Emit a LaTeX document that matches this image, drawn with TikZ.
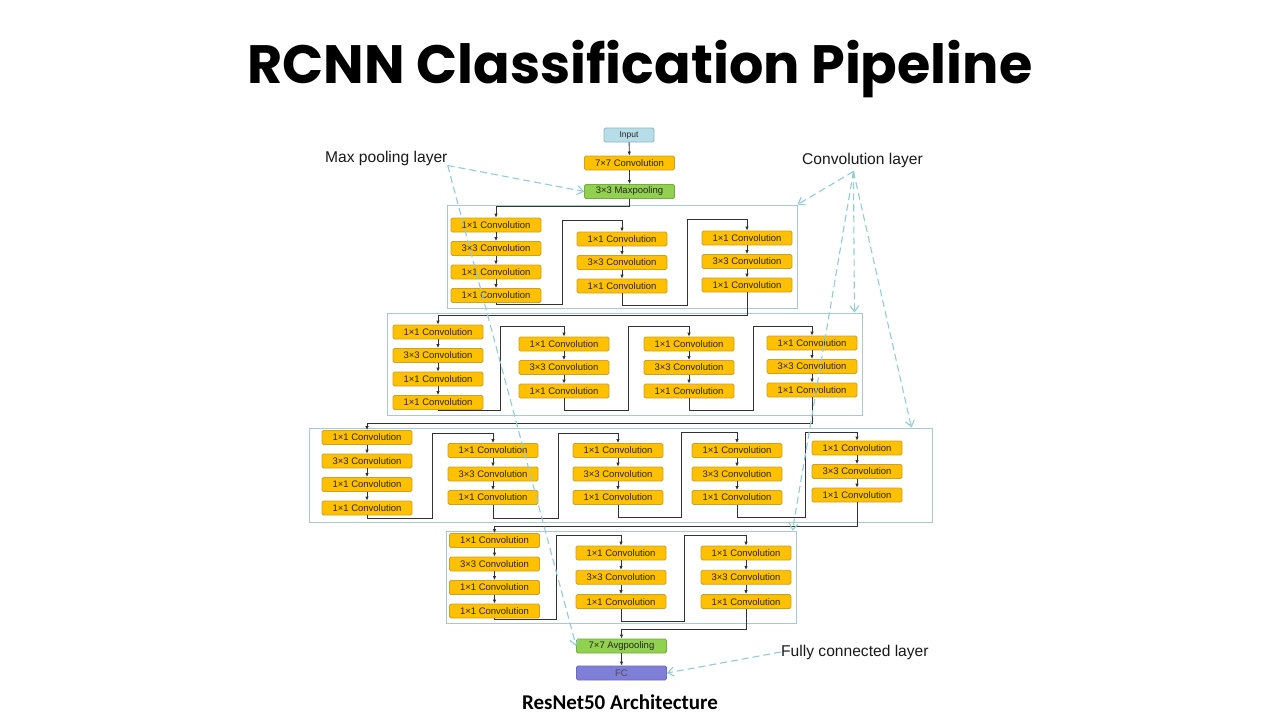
\documentclass[tikz,border=0pt]{standalone}
\usepackage{fontspec}
\setmainfont{Liberation Sans}
\newfontfamily\titlefont{Poppins}
\newfontfamily\capfont{Carlito}
\usepackage{tikz}
\usetikzlibrary{positioning,arrows.meta}
\definecolor{convfill}{HTML}{FFC000}
\definecolor{convline}{HTML}{C9A227}
\definecolor{poolfill}{HTML}{92D050}
\definecolor{poolline}{HTML}{74AD3C}
\definecolor{inputfill}{HTML}{B7DEE8}
\definecolor{inputline}{HTML}{8FB4BE}
\definecolor{fcfill}{HTML}{7F7FD8}
\definecolor{fcline}{HTML}{6A6AC0}
\definecolor{frameline}{HTML}{A9C9CC}
\definecolor{noteline}{HTML}{93CDD4}
\definecolor{wireline}{HTML}{333333}

\begin{document}
\begin{tikzpicture}[
      x=1pt, y=-1pt,
      node distance=8.7pt,
      layer/.style={rounded corners=1.5pt,line width=0.8pt,minimum width=90pt,minimum height=14pt,inner sep=0pt,font=\fontsize{9.5}{9.5}\selectfont,text=black!85},
      conv/.style={layer,draw=convline,fill=convfill},
      pool/.style={layer,draw=poolline,fill=poolfill},
      inbox/.style={layer,draw=inputline,fill=inputfill,minimum width=50pt,font=\fontsize{8.5}{8.5}\selectfont},
      fcbox/.style={layer,draw=fcline,fill=fcfill,text=black!70},
      frame/.style={draw=frameline,line width=0.9pt,inner sep=0pt},
      notelabel/.style={anchor=west,inner sep=0pt,font=\fontsize{15.6}{15.6}\selectfont,text=black!90},
      arr/.style={-{Latex[length=4pt,width=3.5pt]},line width=0.9pt,draw=wireline},
      note/.style={-{Straight Barb[length=6pt,width=9pt]},line width=1.1pt,draw=noteline,dash pattern=on 7pt off 4pt}
    ]
    \fill[white] (0,0) rectangle (1280,720);
    \useasboundingbox (0,0) rectangle (1280,720);

    \node (title) at (640,69) {\titlefont\bfseries\fontsize{54}{54}\selectfont RCNN Classification Pipeline};
    \node (caption) at (620,702) {\capfont\bfseries\fontsize{21}{21}\selectfont ResNet50 Architecture};

    % stage frames
    \node[frame,minimum width=350pt,minimum height=103pt] (stage1) at (622,256.5) {};
    \node[frame,minimum width=475pt,minimum height=102pt] (stage2) at (624.5,364) {};
    \node[frame,minimum width=623pt,minimum height=94pt] (stage3) at (620.5,475) {};
    \node[frame,minimum width=350pt,minimum height=92pt] (stage4) at (621,577) {};

    % stem
    \node[inbox] (input) at (629,135) {Input};
    \node[conv] (conv7) at (629.5,163) {7×7 Convolution};
    \node[pool] (maxpool) at (629.5,191.5) {3×3 Maxpooling};

    % stage 1
    \node[conv] (s1c1r1) at (496,225) {1×1 Convolution};
    \node[conv, below=of s1c1r1] (s1c1r2) {3×3 Convolution};
    \node[conv, below=of s1c1r2] (s1c1r3) {1×1 Convolution};
    \node[conv, below=of s1c1r3] (s1c1r4) {1×1 Convolution};
    \node[conv] (s1c2r1) at (622,239) {1×1 Convolution};
    \node[conv, below=of s1c2r1] (s1c2r2) {3×3 Convolution};
    \node[conv, below=of s1c2r2] (s1c2r3) {1×1 Convolution};
    \node[conv] (s1c3r1) at (747,238) {1×1 Convolution};
    \node[conv, below=of s1c3r1] (s1c3r2) {3×3 Convolution};
    \node[conv, below=of s1c3r2] (s1c3r3) {1×1 Convolution};

    % stage 2
    \node[conv] (s2c1r1) at (438,332) {1×1 Convolution};
    \node[conv, below=of s2c1r1] (s2c1r2) {3×3 Convolution};
    \node[conv, below=of s2c1r2] (s2c1r3) {1×1 Convolution};
    \node[conv, below=of s2c1r3] (s2c1r4) {1×1 Convolution};
    \node[conv] (s2c2r1) at (564,344) {1×1 Convolution};
    \node[conv, below=of s2c2r1] (s2c2r2) {3×3 Convolution};
    \node[conv, below=of s2c2r2] (s2c2r3) {1×1 Convolution};
    \node[conv] (s2c3r1) at (689,344) {1×1 Convolution};
    \node[conv, below=of s2c3r1] (s2c3r2) {3×3 Convolution};
    \node[conv, below=of s2c3r2] (s2c3r3) {1×1 Convolution};
    \node[conv] (s2c4r1) at (812,343) {1×1 Convolution};
    \node[conv, below=of s2c4r1] (s2c4r2) {3×3 Convolution};
    \node[conv, below=of s2c4r2] (s2c4r3) {1×1 Convolution};

    % stage 3
    \node[conv] (s3c1r1) at (367,437.5) {1×1 Convolution};
    \node[conv, below=of s3c1r1] (s3c1r2) {3×3 Convolution};
    \node[conv, below=of s3c1r2] (s3c1r3) {1×1 Convolution};
    \node[conv, below=of s3c1r3] (s3c1r4) {1×1 Convolution};
    \node[conv] (s3c2r1) at (493,450.5) {1×1 Convolution};
    \node[conv, below=of s3c2r1] (s3c2r2) {3×3 Convolution};
    \node[conv, below=of s3c2r2] (s3c2r3) {1×1 Convolution};
    \node[conv] (s3c3r1) at (618,450.5) {1×1 Convolution};
    \node[conv, below=of s3c3r1] (s3c3r2) {3×3 Convolution};
    \node[conv, below=of s3c3r2] (s3c3r3) {1×1 Convolution};
    \node[conv] (s3c4r1) at (737,450.5) {1×1 Convolution};
    \node[conv, below=of s3c4r1] (s3c4r2) {3×3 Convolution};
    \node[conv, below=of s3c4r2] (s3c4r3) {1×1 Convolution};
    \node[conv] (s3c5r1) at (857,448) {1×1 Convolution};
    \node[conv, below=of s3c5r1] (s3c5r2) {3×3 Convolution};
    \node[conv, below=of s3c5r2] (s3c5r3) {1×1 Convolution};

    % stage 4
    \node[conv] (s4c1r1) at (494.5,540.5) {1×1 Convolution};
    \node[conv, below=of s4c1r1] (s4c1r2) {3×3 Convolution};
    \node[conv, below=of s4c1r2] (s4c1r3) {1×1 Convolution};
    \node[conv, below=of s4c1r3] (s4c1r4) {1×1 Convolution};
    \node[conv] (s4c2r1) at (621,553) {1×1 Convolution};
    \node[conv, below=9.5pt of s4c2r1] (s4c2r2) {3×3 Convolution};
    \node[conv, below=9.5pt of s4c2r2] (s4c2r3) {1×1 Convolution};
    \node[conv] (s4c3r1) at (746,553) {1×1 Convolution};
    \node[conv, below=9.5pt of s4c3r1] (s4c3r2) {3×3 Convolution};
    \node[conv, below=9.5pt of s4c3r2] (s4c3r3) {1×1 Convolution};

    % head
    \node[pool] (avgpool) at (621.5,646) {7×7 Avgpooling};
    \node[fcbox] (fc) at (621.5,673) {FC};

    % labels
    \node[notelabel] (mplabel) at (325,158) {Max pooling layer};
    \node[notelabel] (cvlabel) at (802,160) {Convolution layer};
    \node[notelabel] (fclabel) at (781,652) {Fully connected layer};

    % main flow
    \draw[arr] (input) -- (conv7);
    \draw[arr] (conv7) -- (maxpool);
    \draw[arr] (maxpool.south) -- ++(0,8) -| (s1c1r1.north);
    \draw[arr] (s1c1r1) -- (s1c1r2);
    \draw[arr] (s1c1r2) -- (s1c1r3);
    \draw[arr] (s1c1r3) -- (s1c1r4);
    \draw[arr] (s1c1r4.south) |- (562,304) -- (562,220) -| (s1c2r1.north);
    \draw[arr] (s1c2r1) -- (s1c2r2);
    \draw[arr] (s1c2r2) -- (s1c2r3);
    \draw[arr] (s1c2r3.south) |- (687,305) -- (687,219) -| (s1c3r1.north);
    \draw[arr] (s1c3r1) -- (s1c3r2);
    \draw[arr] (s1c3r2) -- (s1c3r3);
    \draw[arr] (s1c3r3.south) -- ++(0,23) -| (s2c1r1.north);

    \draw[arr] (s2c1r1) -- (s2c1r2);
    \draw[arr] (s2c1r2) -- (s2c1r3);
    \draw[arr] (s2c1r3) -- (s2c1r4);
    \draw[arr] (s2c1r4.south) |- (500,410) -- (500,326) -| (s2c2r1.north);
    \draw[arr] (s2c2r1) -- (s2c2r2);
    \draw[arr] (s2c2r2) -- (s2c2r3);
    \draw[arr] (s2c2r3.south) |- (628,410) -- (628,326) -| (s2c3r1.north);
    \draw[arr] (s2c3r1) -- (s2c3r2);
    \draw[arr] (s2c3r2) -- (s2c3r3);
    \draw[arr] (s2c3r3.south) |- (753,410) -- (753,326) -| (s2c4r1.north);
    \draw[arr] (s2c4r1) -- (s2c4r2);
    \draw[arr] (s2c4r2) -- (s2c4r3);
    \draw[arr] (s2c4r3.south) -- ++(0,26) -| (s3c1r1.north);

    \draw[arr] (s3c1r1) -- (s3c1r2);
    \draw[arr] (s3c1r2) -- (s3c1r3);
    \draw[arr] (s3c1r3) -- (s3c1r4);
    \draw[arr] (s3c1r4.south) |- (432,518) -- (432,433) -| (s3c2r1.north);
    \draw[arr] (s3c2r1) -- (s3c2r2);
    \draw[arr] (s3c2r2) -- (s3c2r3);
    \draw[arr] (s3c2r3.south) |- (558,518) -- (558,433) -| (s3c3r1.north);
    \draw[arr] (s3c3r1) -- (s3c3r2);
    \draw[arr] (s3c3r2) -- (s3c3r3);
    \draw[arr] (s3c3r3.south) |- (681,517) -- (681,432) -| (s3c4r1.north);
    \draw[arr] (s3c4r1) -- (s3c4r2);
    \draw[arr] (s3c4r2) -- (s3c4r3);
    \draw[arr] (s3c4r3.south) |- (805,517) -- (805,432) -| (s3c5r1.north);
    \draw[arr] (s3c5r1) -- (s3c5r2);
    \draw[arr] (s3c5r2) -- (s3c5r3);
    \draw[arr] (s3c5r3.south) -- ++(0,24) -| (s4c1r1.north);

    \draw[arr] (s4c1r1) -- (s4c1r2);
    \draw[arr] (s4c1r2) -- (s4c1r3);
    \draw[arr] (s4c1r3) -- (s4c1r4);
    \draw[arr] (s4c1r4.south) |- (556,619) -- (556,535) -| (s4c2r1.north);
    \draw[arr] (s4c2r1) -- (s4c2r2);
    \draw[arr] (s4c2r2) -- (s4c2r3);
    \draw[arr] (s4c2r3.south) |- (684,621) -- (684,535) -| (s4c3r1.north);
    \draw[arr] (s4c3r1) -- (s4c3r2);
    \draw[arr] (s4c3r2) -- (s4c3r3);
    \draw[arr] (s4c3r3.south) -- ++(0,20) -| (avgpool.north);
    \draw[arr] (avgpool) -- (fc);

    % annotations
    \coordinate (cvtip) at ([xshift=-9pt,yshift=-4pt]cvlabel.south);
    \draw[note] (mplabel.south east) -- (maxpool.west);
    \draw[note] (mplabel.south east) -- (avgpool.west);
    \draw[note] (cvtip) -- (stage1.north east);
    \draw[note] (cvtip) -- ([xshift=-8pt]stage2.north east);
    \draw[note] (cvtip) -- ([xshift=-21pt]stage3.north east);
    \draw[note] (cvtip) -- ([xshift=-4pt]stage4.north east);
    \draw[note] (fclabel.west) -- (fc.east);
  \end{tikzpicture}
\end{document}
